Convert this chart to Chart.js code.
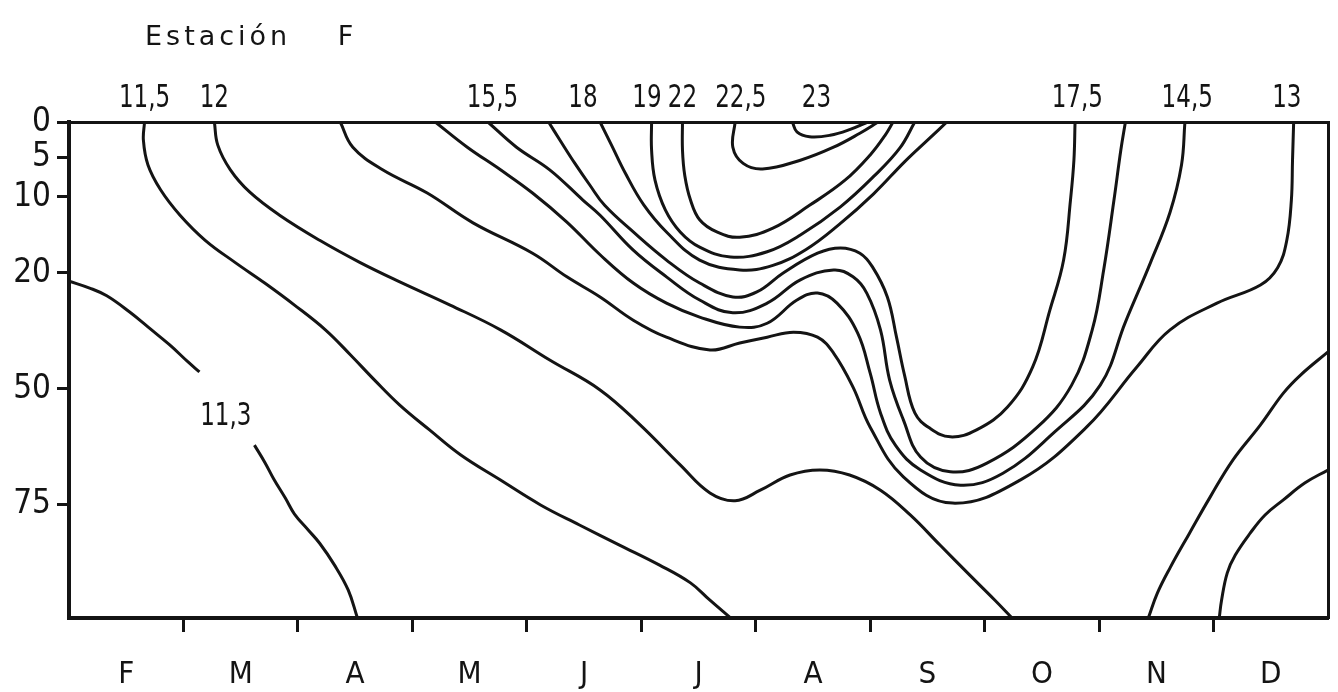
<!DOCTYPE html>
<html>
<head>
<meta charset="utf-8">
<script src="https://cdn.jsdelivr.net/npm/chart.js@4.4.1/dist/chart.umd.min.js"></script>
<style>
  html, body { margin: 0; padding: 0; background: #fff; }
  #wrap { width: 1338px; height: 692px; }
</style>
</head>
<body>
<div id="wrap"><canvas id="c" width="1338" height="692"></canvas></div>
<script>
// Months along the bottom, starting with February
const months = ['F', 'M', 'A', 'M', 'J', 'J', 'A', 'S', 'O', 'N', 'D'];
// Depth ticks (m)
const depthTicks = [0, 5, 10, 20, 50, 75];
// Isotherm values written along the surface, and the month where each one sits
const surfaceLabels = ['11,5', '12', '15,5', '18', '19', '22', '22,5', '23', '17,5', '14,5', '13'];
const surfaceLabelMonths = [0.66, 1.27, 3.70, 4.49, 5.05, 5.36, 5.87, 6.53, 8.81, 9.77, 10.64];
// Isotherm written inside the section
const innerLabel = { text: '11,3', month: 1.37, depth: 56 };
const titleText = 'Estación F';

// Isotherms as [month, depth] pairs (month 0 = start of February)
const iso11_3a = [[0,22.1],[0.18,23.9],[0.33,25.9],[0.53,30.1],[0.70,34.2],[0.88,38.6],[1.04,43.0],[1.14,45.6]];
const iso11_3b = [[1.62,62.2],[1.71,65.9],[1.79,69.6],[1.89,73.7],[1.97,77.2],[2.09,80.7],[2.19,83.6],[2.32,88.4],[2.44,93.9],[2.52,100]];
const iso11_5 = [[0.66,0],[0.65,2.6],[0.69,6.0],[0.80,9.1],[0.97,12.4],[1.19,15.7],[1.45,18.6],[1.71,22.6],[1.97,28.3],[2.24,34.7],[2.46,41.2],[2.67,47.7],[2.89,53.5],[3.15,58.9],[3.42,64.3],[3.77,69.8],[4.12,75.2],[4.46,79.6],[4.81,84.0],[5.16,88.4],[5.43,92.3],[5.60,96.1],[5.78,100]];
const iso12 = [[1.27,0],[1.30,3.3],[1.41,6.6],[1.58,9.4],[1.84,12.4],[2.19,15.7],[2.54,18.6],[2.89,22.3],[3.33,28.3],[3.77,34.7],[4.20,42.5],[4.64,50.2],[4.99,57.8],[5.34,66.5],[5.60,72.6],[5.82,74.3],[6.04,72.0],[6.30,68.7],[6.56,67.6],[6.82,68.7],[7.09,72.0],[7.35,77.4],[7.61,84.0],[7.87,90.6],[8.09,96.1],[8.24,100]];
const iso13 = [[2.37,0],[2.48,3.6],[2.74,6.6],[3.13,9.5],[3.53,13.4],[4.05,17.4],[4.35,21.0],[4.64,26.2],[4.93,32.2],[5.22,36.6],[5.60,39.9],[5.86,38.1],[6.10,36.6],[6.33,35.3],[6.54,36.6],[6.68,40.7],[6.85,49.5],[7.00,58.3],[7.29,69.1],[7.72,74.8],[8.31,69.8],[8.89,58.3],[9.33,44.3],[9.62,34.7],[10.03,27.8],[10.41,23.1],[10.56,19.3],[10.64,15.7],[10.68,10.4],[10.69,5.4],[10.70,0]];
const iso14_5 = [[3.20,0],[3.48,3.6],[3.77,6.6],[4.05,9.5],[4.35,13.3],[4.64,17.6],[4.93,22.6],[5.22,27.8],[5.51,31.4],[5.86,34.0],[6.10,33.0],[6.36,27.0],[6.54,25.2],[6.71,27.8],[6.89,35.5],[7.00,45.9],[7.09,55.2],[7.22,62.2],[7.44,67.6],[7.79,70.9],[8.16,68.3],[8.60,59.6],[9.01,49.0],[9.23,32.7],[9.45,18.6],[9.62,12.0],[9.72,6.0],[9.75,0]];
const iso15_5 = [[3.66,0],[3.91,3.6],[4.20,6.6],[4.49,10.4],[4.64,12.4],[4.93,17.0],[5.22,21.0],[5.51,27.0],[5.80,30.3],[6.10,27.8],[6.39,21.8],[6.68,19.6],[6.85,21.0],[6.97,25.2],[7.09,34.7],[7.17,47.7],[7.29,56.7],[7.44,64.8],[7.70,68.0],[8.02,66.1],[8.46,58.3],[8.76,49.0],[8.94,34.7],[9.04,19.6],[9.13,10.4],[9.19,4.0],[9.23,0]];
const iso17_5 = [[4.19,0],[4.29,2.6],[4.42,5.8],[4.55,8.5],[4.68,11.1],[4.93,14.6],[5.22,18.3],[5.51,22.6],[5.80,26.2],[6.01,24.9],[6.24,20.0],[6.54,17.4],[6.74,16.7],[6.91,17.4],[7.02,19.2],[7.15,26.2],[7.23,36.6],[7.30,46.4],[7.39,55.2],[7.52,58.5],[7.70,60.4],[7.93,58.9],[8.20,53.9],[8.42,44.3],[8.57,29.6],[8.69,18.3],[8.75,10.4],[8.78,5.4],[8.79,0]];
const iso18 = [[4.64,0],[4.74,3.3],[4.86,7.0],[5.02,11.0],[5.22,14.6],[5.51,18.3],[5.86,19.6],[6.15,19.0],[6.44,16.9],[6.73,13.6],[7.03,9.6],[7.30,5.6],[7.52,2.3],[7.67,0]];
const iso19 = [[5.09,0],[5.09,4.0],[5.12,7.9],[5.21,11.7],[5.34,14.6],[5.51,16.6],[5.78,17.9],[6.10,17.2],[6.39,15.0],[6.74,11.3],[7.04,7.3],[7.26,3.7],[7.39,0]];
const iso22 = [[5.36,0],[5.36,4.0],[5.38,7.3],[5.43,10.4],[5.51,13.0],[5.66,14.6],[5.86,15.3],[6.15,14.1],[6.47,11.1],[6.78,7.9],[7.00,4.7],[7.13,1.9],[7.20,0]];
const iso22_5 = [[5.82,0],[5.80,3.6],[5.89,5.8],[6.06,6.5],[6.39,5.4],[6.68,3.6],[6.91,1.6],[7.07,0]];
const iso23 = [[6.32,0],[6.36,1.4],[6.47,2.1],[6.65,1.9],[6.82,1.1],[6.98,0]];
const isoEastUpper = [[11,40.4],[10.76,46.4],[10.61,50.9],[10.41,57.8],[10.17,65.4],[9.97,73.5],[9.79,81.4],[9.62,89.0],[9.51,94.5],[9.43,100]];
const isoEastLower = [[11,67.6],[10.80,70.4],[10.61,74.1],[10.45,77.4],[10.32,81.4],[10.19,86.2],[10.12,90.1],[10.07,96.1],[10.05,100]];

const isotherms = [iso11_3a, iso11_3b, iso11_5, iso12, iso13, iso14_5, iso15_5, iso17_5,
                   iso18, iso19, iso22, iso22_5, iso23, isoEastUpper, isoEastLower];

// Stretched depth axis: the upper metres get more room than the deep part
const depthKnots = [0, 5, 10, 20, 50, 75, 100];
const depthKnotShare = [0, 0.0706, 0.1512, 0.3044, 0.5383, 0.7702, 1];
function piecewise(v, xs, ys) {
  if (v <= xs[0]) return ys[0];
  for (let i = 1; i < xs.length; i++) {
    if (v <= xs[i]) {
      const t = (v - xs[i - 1]) / (xs[i] - xs[i - 1]);
      return ys[i - 1] + t * (ys[i] - ys[i - 1]);
    }
  }
  return ys[ys.length - 1];
}
class DepthScale extends Chart.LinearScale {
  buildTicks() { return depthTicks.map(v => ({ value: v })); }
  getPixelForValue(v) { return this.getPixelForDecimal(piecewise(v, depthKnots, depthKnotShare)); }
  getValueForPixel(p) { return piecewise(this.getDecimalForPixel(p), depthKnotShare, depthKnots); }
}
DepthScale.id = 'depth';
DepthScale.defaults = {};
Chart.register(DepthScale);

const INK = '#141414';
const LETTER_FONT = '"DejaVu Sans Condensed", "DejaVu Sans", sans-serif';
const DIGIT_FONT = '32px "DejaVu Sans Condensed", "DejaVu Sans", sans-serif';
const DIGIT_SQUEEZE = 0.8;

function squeezedText(ctx, text, x, y) {
  ctx.save();
  ctx.translate(x, y);
  ctx.scale(DIGIT_SQUEEZE, 1);
  ctx.fillText(text, 0, 0);
  ctx.restore();
}

// Title, isotherm values along the surface and the inner isotherm value
const annotations = {
  id: 'annotations',
  afterDraw(chart) {
    const { ctx, scales } = chart;
    ctx.save();
    ctx.fillStyle = INK;
    ctx.textBaseline = 'alphabetic';
    ctx.textAlign = 'left';
    ctx.font = '27px "DejaVu Sans", sans-serif';
    ctx.letterSpacing = '4px';
    ctx.wordSpacing = '34px';
    ctx.fillText(titleText, 145, 45);
    ctx.letterSpacing = '0px';
    ctx.wordSpacing = '0px';

    ctx.font = DIGIT_FONT;
    ctx.textAlign = 'center';
    ctx.textBaseline = 'alphabetic';
    const top = scales.xTop;
    surfaceLabels.forEach((t, i) => {
      squeezedText(ctx, t, top.getPixelForValue(surfaceLabelMonths[i]), 107);
    });
    ctx.textBaseline = 'middle';
    squeezedText(ctx, innerLabel.text, scales.x.getPixelForValue(innerLabel.month), scales.y.getPixelForValue(innerLabel.depth));
    ctx.restore();
  }
};

const datasets = isotherms.map(pts => ({
  data: pts,
  borderColor: INK,
  borderWidth: 3,
  pointRadius: 0,
  tension: 0.4,
  fill: false
}));

new Chart(document.getElementById('c'), {
  type: 'line',
  data: { datasets },
  plugins: [annotations],
  options: {
    responsive: false,
    animation: false,
    events: [],
    layout: { padding: 0 },
    plugins: { legend: { display: false }, tooltip: { enabled: false } },
    scales: {
      x: {
        type: 'linear', position: 'bottom', min: 0, max: 11,
        afterBuildTicks: s => {
          const t = [];
          for (let v = 0.5; v < 11; v += 0.5) t.push({ value: v });
          s.ticks = t;
        },
        afterFit: s => { s.height = 74; },
        ticks: {
          autoSkip: false, maxRotation: 0, color: INK, padding: 24,
          font: { family: LETTER_FONT, size: 31 },
          callback: v => Number.isInteger(v) ? '' : months[Math.floor(v)]
        },
        grid: {
          display: true, drawOnChartArea: false, drawTicks: true,
          tickLength: 14, tickWidth: 3,
          tickColor: c => Number.isInteger(c.tick.value) ? INK : 'rgba(0,0,0,0)'
        },
        border: { display: true, color: INK, width: 4 }
      },
      xTop: {
        type: 'linear', position: 'top', min: 0, max: 11,
        afterFit: s => { s.height = 122; },
        ticks: { display: false },
        grid: { display: false, drawTicks: false },
        border: { display: true, color: INK, width: 3 }
      },
      y: {
        type: 'depth', position: 'left', min: 0, max: 100, reverse: true,
        afterFit: s => { s.width = 69; },
        ticks: {
          autoSkip: false, color: INK, padding: 6,
          font: { family: LETTER_FONT, size: 33 },
          callback: v => String(v)
        },
        grid: {
          display: true, drawOnChartArea: false, drawTicks: true,
          tickLength: 12, tickWidth: 3, tickColor: INK
        },
        border: { display: true, color: INK, width: 4 }
      },
      yRight: {
        type: 'linear', position: 'right', min: 0, max: 1,
        afterFit: s => { s.width = 10; },
        ticks: { display: false },
        grid: { display: false, drawTicks: false },
        border: { display: true, color: INK, width: 3 }
      }
    }
  }
});
</script>
</body>
</html>
